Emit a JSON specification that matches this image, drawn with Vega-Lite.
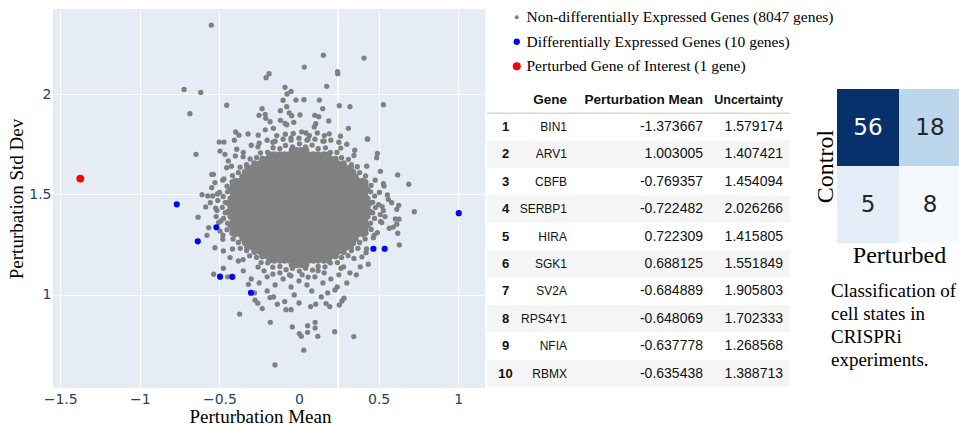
{
"$schema": "https://vega.github.io/schema/vega-lite/v6.json",
"padding": {"left": 7, "top": 8, "right": 0, "bottom": 0},
"autosize": {"type": "pad"},
"background": "white",
"config": {"view": {"stroke": null}, "locale": {"number": {"decimal": ".", "thousands": ",", "grouping": [3], "currency": ["$", ""], "minus": "-"}}},
"spacing": 2,
"bounds": "flush",
"resolve": {"scale": {"color": "independent", "size": "independent", "x": "independent", "y": "independent"}, "legend": {"color": "independent", "size": "independent"}},
"datasets": {
"core": [
{"mean":-0.045,"sd":1.149,"g":"n"},{"mean":-0.015,"sd":1.149,"g":"n"},{"mean":0.015,"sd":1.149,"g":"n"},{"mean":0.045,"sd":1.149,"g":"n"},
{"mean":-0.185,"sd":1.171,"g":"n"},{"mean":-0.155,"sd":1.171,"g":"n"},{"mean":-0.12,"sd":1.171,"g":"n"},{"mean":-0.09,"sd":1.171,"g":"n"},{"mean":-0.06,"sd":1.171,"g":"n"},{"mean":-0.03,"sd":1.171,"g":"n"},{"mean":0,"sd":1.171,"g":"n"},{"mean":0.03,"sd":1.171,"g":"n"},{"mean":0.06,"sd":1.171,"g":"n"},{"mean":0.09,"sd":1.171,"g":"n"},{"mean":0.12,"sd":1.171,"g":"n"},{"mean":0.155,"sd":1.171,"g":"n"},{"mean":0.185,"sd":1.171,"g":"n"},
{"mean":-0.23,"sd":1.193,"g":"n"},{"mean":-0.2,"sd":1.193,"g":"n"},{"mean":-0.17,"sd":1.193,"g":"n"},{"mean":-0.14,"sd":1.193,"g":"n"},{"mean":-0.105,"sd":1.193,"g":"n"},{"mean":-0.075,"sd":1.193,"g":"n"},{"mean":-0.045,"sd":1.193,"g":"n"},{"mean":-0.015,"sd":1.193,"g":"n"},{"mean":0.015,"sd":1.193,"g":"n"},{"mean":0.045,"sd":1.193,"g":"n"},{"mean":0.075,"sd":1.193,"g":"n"},{"mean":0.105,"sd":1.193,"g":"n"},{"mean":0.14,"sd":1.193,"g":"n"},{"mean":0.17,"sd":1.193,"g":"n"},{"mean":0.2,"sd":1.193,"g":"n"},{"mean":0.23,"sd":1.193,"g":"n"},
{"mean":-0.28,"sd":1.215,"g":"n"},{"mean":-0.245,"sd":1.215,"g":"n"},{"mean":-0.215,"sd":1.215,"g":"n"},{"mean":-0.185,"sd":1.215,"g":"n"},{"mean":-0.155,"sd":1.215,"g":"n"},{"mean":-0.12,"sd":1.215,"g":"n"},{"mean":-0.09,"sd":1.215,"g":"n"},{"mean":-0.06,"sd":1.215,"g":"n"},{"mean":-0.03,"sd":1.215,"g":"n"},{"mean":0,"sd":1.215,"g":"n"},{"mean":0.03,"sd":1.215,"g":"n"},{"mean":0.06,"sd":1.215,"g":"n"},{"mean":0.09,"sd":1.215,"g":"n"},{"mean":0.12,"sd":1.215,"g":"n"},{"mean":0.155,"sd":1.215,"g":"n"},{"mean":0.185,"sd":1.215,"g":"n"},{"mean":0.215,"sd":1.215,"g":"n"},{"mean":0.245,"sd":1.215,"g":"n"},{"mean":0.28,"sd":1.215,"g":"n"},
{"mean":-0.325,"sd":1.237,"g":"n"},{"mean":-0.295,"sd":1.237,"g":"n"},{"mean":-0.265,"sd":1.237,"g":"n"},{"mean":-0.23,"sd":1.237,"g":"n"},{"mean":-0.2,"sd":1.237,"g":"n"},{"mean":-0.17,"sd":1.237,"g":"n"},{"mean":-0.14,"sd":1.237,"g":"n"},{"mean":-0.105,"sd":1.237,"g":"n"},{"mean":-0.075,"sd":1.237,"g":"n"},{"mean":-0.045,"sd":1.237,"g":"n"},{"mean":-0.015,"sd":1.237,"g":"n"},{"mean":0.015,"sd":1.237,"g":"n"},{"mean":0.045,"sd":1.237,"g":"n"},{"mean":0.075,"sd":1.237,"g":"n"},{"mean":0.105,"sd":1.237,"g":"n"},{"mean":0.14,"sd":1.237,"g":"n"},{"mean":0.17,"sd":1.237,"g":"n"},{"mean":0.2,"sd":1.237,"g":"n"},{"mean":0.23,"sd":1.237,"g":"n"},{"mean":0.265,"sd":1.237,"g":"n"},{"mean":0.295,"sd":1.237,"g":"n"},{"mean":0.325,"sd":1.237,"g":"n"},
{"mean":-0.34,"sd":1.259,"g":"n"},{"mean":-0.31,"sd":1.259,"g":"n"},{"mean":-0.28,"sd":1.259,"g":"n"},{"mean":-0.245,"sd":1.259,"g":"n"},{"mean":-0.215,"sd":1.259,"g":"n"},{"mean":-0.185,"sd":1.259,"g":"n"},{"mean":-0.155,"sd":1.259,"g":"n"},{"mean":-0.12,"sd":1.259,"g":"n"},{"mean":-0.09,"sd":1.259,"g":"n"},{"mean":-0.06,"sd":1.259,"g":"n"},{"mean":-0.03,"sd":1.259,"g":"n"},{"mean":0,"sd":1.259,"g":"n"},{"mean":0.03,"sd":1.259,"g":"n"},{"mean":0.06,"sd":1.259,"g":"n"},{"mean":0.09,"sd":1.259,"g":"n"},{"mean":0.12,"sd":1.259,"g":"n"},{"mean":0.155,"sd":1.259,"g":"n"},{"mean":0.185,"sd":1.259,"g":"n"},{"mean":0.215,"sd":1.259,"g":"n"},{"mean":0.245,"sd":1.259,"g":"n"},{"mean":0.28,"sd":1.259,"g":"n"},{"mean":0.31,"sd":1.259,"g":"n"},{"mean":0.34,"sd":1.259,"g":"n"},
{"mean":-0.355,"sd":1.281,"g":"n"},{"mean":-0.325,"sd":1.281,"g":"n"},{"mean":-0.295,"sd":1.281,"g":"n"},{"mean":-0.265,"sd":1.281,"g":"n"},{"mean":-0.23,"sd":1.281,"g":"n"},{"mean":-0.2,"sd":1.281,"g":"n"},{"mean":-0.17,"sd":1.281,"g":"n"},{"mean":-0.14,"sd":1.281,"g":"n"},{"mean":-0.105,"sd":1.281,"g":"n"},{"mean":-0.075,"sd":1.281,"g":"n"},{"mean":-0.045,"sd":1.281,"g":"n"},{"mean":-0.015,"sd":1.281,"g":"n"},{"mean":0.015,"sd":1.281,"g":"n"},{"mean":0.045,"sd":1.281,"g":"n"},{"mean":0.075,"sd":1.281,"g":"n"},{"mean":0.105,"sd":1.281,"g":"n"},{"mean":0.14,"sd":1.281,"g":"n"},{"mean":0.17,"sd":1.281,"g":"n"},{"mean":0.2,"sd":1.281,"g":"n"},{"mean":0.23,"sd":1.281,"g":"n"},{"mean":0.265,"sd":1.281,"g":"n"},{"mean":0.295,"sd":1.281,"g":"n"},{"mean":0.325,"sd":1.281,"g":"n"},{"mean":0.355,"sd":1.281,"g":"n"},
{"mean":-0.4,"sd":1.303,"g":"n"},{"mean":-0.37,"sd":1.303,"g":"n"},{"mean":-0.34,"sd":1.303,"g":"n"},{"mean":-0.31,"sd":1.303,"g":"n"},{"mean":-0.28,"sd":1.303,"g":"n"},{"mean":-0.245,"sd":1.303,"g":"n"},{"mean":-0.215,"sd":1.303,"g":"n"},{"mean":-0.185,"sd":1.303,"g":"n"},{"mean":-0.155,"sd":1.303,"g":"n"},{"mean":-0.12,"sd":1.303,"g":"n"},{"mean":-0.09,"sd":1.303,"g":"n"},{"mean":-0.06,"sd":1.303,"g":"n"},{"mean":-0.03,"sd":1.303,"g":"n"},{"mean":0,"sd":1.303,"g":"n"},{"mean":0.03,"sd":1.303,"g":"n"},{"mean":0.06,"sd":1.303,"g":"n"},{"mean":0.09,"sd":1.303,"g":"n"},{"mean":0.12,"sd":1.303,"g":"n"},{"mean":0.155,"sd":1.303,"g":"n"},{"mean":0.185,"sd":1.303,"g":"n"},{"mean":0.215,"sd":1.303,"g":"n"},{"mean":0.245,"sd":1.303,"g":"n"},{"mean":0.28,"sd":1.303,"g":"n"},{"mean":0.31,"sd":1.303,"g":"n"},{"mean":0.34,"sd":1.303,"g":"n"},{"mean":0.37,"sd":1.303,"g":"n"},{"mean":0.4,"sd":1.303,"g":"n"},
{"mean":-0.415,"sd":1.325,"g":"n"},{"mean":-0.385,"sd":1.325,"g":"n"},{"mean":-0.355,"sd":1.325,"g":"n"},{"mean":-0.325,"sd":1.325,"g":"n"},{"mean":-0.295,"sd":1.325,"g":"n"},{"mean":-0.265,"sd":1.325,"g":"n"},{"mean":-0.23,"sd":1.325,"g":"n"},{"mean":-0.2,"sd":1.325,"g":"n"},{"mean":-0.17,"sd":1.325,"g":"n"},{"mean":-0.14,"sd":1.325,"g":"n"},{"mean":-0.105,"sd":1.325,"g":"n"},{"mean":-0.075,"sd":1.325,"g":"n"},{"mean":-0.045,"sd":1.325,"g":"n"},{"mean":-0.015,"sd":1.325,"g":"n"},{"mean":0.015,"sd":1.325,"g":"n"},{"mean":0.045,"sd":1.325,"g":"n"},{"mean":0.075,"sd":1.325,"g":"n"},{"mean":0.105,"sd":1.325,"g":"n"},{"mean":0.14,"sd":1.325,"g":"n"},{"mean":0.17,"sd":1.325,"g":"n"},{"mean":0.2,"sd":1.325,"g":"n"},{"mean":0.23,"sd":1.325,"g":"n"},{"mean":0.265,"sd":1.325,"g":"n"},{"mean":0.295,"sd":1.325,"g":"n"},{"mean":0.325,"sd":1.325,"g":"n"},{"mean":0.355,"sd":1.325,"g":"n"},{"mean":0.385,"sd":1.325,"g":"n"},{"mean":0.415,"sd":1.325,"g":"n"},
{"mean":-0.43,"sd":1.347,"g":"n"},{"mean":-0.4,"sd":1.347,"g":"n"},{"mean":-0.37,"sd":1.347,"g":"n"},{"mean":-0.34,"sd":1.347,"g":"n"},{"mean":-0.31,"sd":1.347,"g":"n"},{"mean":-0.28,"sd":1.347,"g":"n"},{"mean":-0.245,"sd":1.347,"g":"n"},{"mean":-0.215,"sd":1.347,"g":"n"},{"mean":-0.185,"sd":1.347,"g":"n"},{"mean":-0.155,"sd":1.347,"g":"n"},{"mean":-0.12,"sd":1.347,"g":"n"},{"mean":-0.09,"sd":1.347,"g":"n"},{"mean":-0.06,"sd":1.347,"g":"n"},{"mean":-0.03,"sd":1.347,"g":"n"},{"mean":0,"sd":1.347,"g":"n"},{"mean":0.03,"sd":1.347,"g":"n"},{"mean":0.06,"sd":1.347,"g":"n"},{"mean":0.09,"sd":1.347,"g":"n"},{"mean":0.12,"sd":1.347,"g":"n"},{"mean":0.155,"sd":1.347,"g":"n"},{"mean":0.185,"sd":1.347,"g":"n"},{"mean":0.215,"sd":1.347,"g":"n"},{"mean":0.245,"sd":1.347,"g":"n"},{"mean":0.28,"sd":1.347,"g":"n"},{"mean":0.31,"sd":1.347,"g":"n"},{"mean":0.34,"sd":1.347,"g":"n"},{"mean":0.37,"sd":1.347,"g":"n"},{"mean":0.4,"sd":1.347,"g":"n"},{"mean":0.43,"sd":1.347,"g":"n"},
{"mean":-0.415,"sd":1.369,"g":"n"},{"mean":-0.385,"sd":1.369,"g":"n"},{"mean":-0.355,"sd":1.369,"g":"n"},{"mean":-0.325,"sd":1.369,"g":"n"},{"mean":-0.295,"sd":1.369,"g":"n"},{"mean":-0.265,"sd":1.369,"g":"n"},{"mean":-0.23,"sd":1.369,"g":"n"},{"mean":-0.2,"sd":1.369,"g":"n"},{"mean":-0.17,"sd":1.369,"g":"n"},{"mean":-0.14,"sd":1.369,"g":"n"},{"mean":-0.105,"sd":1.369,"g":"n"},{"mean":-0.075,"sd":1.369,"g":"n"},{"mean":-0.045,"sd":1.369,"g":"n"},{"mean":-0.015,"sd":1.369,"g":"n"},{"mean":0.015,"sd":1.369,"g":"n"},{"mean":0.045,"sd":1.369,"g":"n"},{"mean":0.075,"sd":1.369,"g":"n"},{"mean":0.105,"sd":1.369,"g":"n"},{"mean":0.14,"sd":1.369,"g":"n"},{"mean":0.17,"sd":1.369,"g":"n"},{"mean":0.2,"sd":1.369,"g":"n"},{"mean":0.23,"sd":1.369,"g":"n"},{"mean":0.265,"sd":1.369,"g":"n"},{"mean":0.295,"sd":1.369,"g":"n"},{"mean":0.325,"sd":1.369,"g":"n"},{"mean":0.355,"sd":1.369,"g":"n"},{"mean":0.385,"sd":1.369,"g":"n"},{"mean":0.415,"sd":1.369,"g":"n"},
{"mean":-0.43,"sd":1.391,"g":"n"},{"mean":-0.4,"sd":1.391,"g":"n"},{"mean":-0.37,"sd":1.391,"g":"n"},{"mean":-0.34,"sd":1.391,"g":"n"},{"mean":-0.31,"sd":1.391,"g":"n"},{"mean":-0.28,"sd":1.391,"g":"n"},{"mean":-0.245,"sd":1.391,"g":"n"},{"mean":-0.215,"sd":1.391,"g":"n"},{"mean":-0.185,"sd":1.391,"g":"n"},{"mean":-0.155,"sd":1.391,"g":"n"},{"mean":-0.12,"sd":1.391,"g":"n"},{"mean":-0.09,"sd":1.391,"g":"n"},{"mean":-0.06,"sd":1.391,"g":"n"},{"mean":-0.03,"sd":1.391,"g":"n"},{"mean":0,"sd":1.391,"g":"n"},{"mean":0.03,"sd":1.391,"g":"n"},{"mean":0.06,"sd":1.391,"g":"n"},{"mean":0.09,"sd":1.391,"g":"n"},{"mean":0.12,"sd":1.391,"g":"n"},{"mean":0.155,"sd":1.391,"g":"n"},{"mean":0.185,"sd":1.391,"g":"n"},{"mean":0.215,"sd":1.391,"g":"n"},{"mean":0.245,"sd":1.391,"g":"n"},{"mean":0.28,"sd":1.391,"g":"n"},{"mean":0.31,"sd":1.391,"g":"n"},{"mean":0.34,"sd":1.391,"g":"n"},{"mean":0.37,"sd":1.391,"g":"n"},{"mean":0.4,"sd":1.391,"g":"n"},{"mean":0.43,"sd":1.391,"g":"n"},
{"mean":-0.445,"sd":1.413,"g":"n"},{"mean":-0.415,"sd":1.413,"g":"n"},{"mean":-0.385,"sd":1.413,"g":"n"},{"mean":-0.355,"sd":1.413,"g":"n"},{"mean":-0.325,"sd":1.413,"g":"n"},{"mean":-0.295,"sd":1.413,"g":"n"},{"mean":-0.265,"sd":1.413,"g":"n"},{"mean":-0.23,"sd":1.413,"g":"n"},{"mean":-0.2,"sd":1.413,"g":"n"},{"mean":-0.17,"sd":1.413,"g":"n"},{"mean":-0.14,"sd":1.413,"g":"n"},{"mean":-0.105,"sd":1.413,"g":"n"},{"mean":-0.075,"sd":1.413,"g":"n"},{"mean":-0.045,"sd":1.413,"g":"n"},{"mean":-0.015,"sd":1.413,"g":"n"},{"mean":0.015,"sd":1.413,"g":"n"},{"mean":0.045,"sd":1.413,"g":"n"},{"mean":0.075,"sd":1.413,"g":"n"},{"mean":0.105,"sd":1.413,"g":"n"},{"mean":0.14,"sd":1.413,"g":"n"},{"mean":0.17,"sd":1.413,"g":"n"},{"mean":0.2,"sd":1.413,"g":"n"},{"mean":0.23,"sd":1.413,"g":"n"},{"mean":0.265,"sd":1.413,"g":"n"},{"mean":0.295,"sd":1.413,"g":"n"},{"mean":0.325,"sd":1.413,"g":"n"},{"mean":0.355,"sd":1.413,"g":"n"},{"mean":0.385,"sd":1.413,"g":"n"},{"mean":0.415,"sd":1.413,"g":"n"},{"mean":0.445,"sd":1.413,"g":"n"},
{"mean":-0.43,"sd":1.435,"g":"n"},{"mean":-0.4,"sd":1.435,"g":"n"},{"mean":-0.37,"sd":1.435,"g":"n"},{"mean":-0.34,"sd":1.435,"g":"n"},{"mean":-0.31,"sd":1.435,"g":"n"},{"mean":-0.28,"sd":1.435,"g":"n"},{"mean":-0.245,"sd":1.435,"g":"n"},{"mean":-0.215,"sd":1.435,"g":"n"},{"mean":-0.185,"sd":1.435,"g":"n"},{"mean":-0.155,"sd":1.435,"g":"n"},{"mean":-0.12,"sd":1.435,"g":"n"},{"mean":-0.09,"sd":1.435,"g":"n"},{"mean":-0.06,"sd":1.435,"g":"n"},{"mean":-0.03,"sd":1.435,"g":"n"},{"mean":0,"sd":1.435,"g":"n"},{"mean":0.03,"sd":1.435,"g":"n"},{"mean":0.06,"sd":1.435,"g":"n"},{"mean":0.09,"sd":1.435,"g":"n"},{"mean":0.12,"sd":1.435,"g":"n"},{"mean":0.155,"sd":1.435,"g":"n"},{"mean":0.185,"sd":1.435,"g":"n"},{"mean":0.215,"sd":1.435,"g":"n"},{"mean":0.245,"sd":1.435,"g":"n"},{"mean":0.28,"sd":1.435,"g":"n"},{"mean":0.31,"sd":1.435,"g":"n"},{"mean":0.34,"sd":1.435,"g":"n"},{"mean":0.37,"sd":1.435,"g":"n"},{"mean":0.4,"sd":1.435,"g":"n"},{"mean":0.43,"sd":1.435,"g":"n"},
{"mean":-0.445,"sd":1.457,"g":"n"},{"mean":-0.415,"sd":1.457,"g":"n"},{"mean":-0.385,"sd":1.457,"g":"n"},{"mean":-0.355,"sd":1.457,"g":"n"},{"mean":-0.325,"sd":1.457,"g":"n"},{"mean":-0.295,"sd":1.457,"g":"n"},{"mean":-0.265,"sd":1.457,"g":"n"},{"mean":-0.23,"sd":1.457,"g":"n"},{"mean":-0.2,"sd":1.457,"g":"n"},{"mean":-0.17,"sd":1.457,"g":"n"},{"mean":-0.14,"sd":1.457,"g":"n"},{"mean":-0.105,"sd":1.457,"g":"n"},{"mean":-0.075,"sd":1.457,"g":"n"},{"mean":-0.045,"sd":1.457,"g":"n"},{"mean":-0.015,"sd":1.457,"g":"n"},{"mean":0.015,"sd":1.457,"g":"n"},{"mean":0.045,"sd":1.457,"g":"n"},{"mean":0.075,"sd":1.457,"g":"n"},{"mean":0.105,"sd":1.457,"g":"n"},{"mean":0.14,"sd":1.457,"g":"n"},{"mean":0.17,"sd":1.457,"g":"n"},{"mean":0.2,"sd":1.457,"g":"n"},{"mean":0.23,"sd":1.457,"g":"n"},{"mean":0.265,"sd":1.457,"g":"n"},{"mean":0.295,"sd":1.457,"g":"n"},{"mean":0.325,"sd":1.457,"g":"n"},{"mean":0.355,"sd":1.457,"g":"n"},{"mean":0.385,"sd":1.457,"g":"n"},{"mean":0.415,"sd":1.457,"g":"n"},{"mean":0.445,"sd":1.457,"g":"n"},
{"mean":-0.43,"sd":1.479,"g":"n"},{"mean":-0.4,"sd":1.479,"g":"n"},{"mean":-0.37,"sd":1.479,"g":"n"},{"mean":-0.34,"sd":1.479,"g":"n"},{"mean":-0.31,"sd":1.479,"g":"n"},{"mean":-0.28,"sd":1.479,"g":"n"},{"mean":-0.245,"sd":1.479,"g":"n"},{"mean":-0.215,"sd":1.479,"g":"n"},{"mean":-0.185,"sd":1.479,"g":"n"},{"mean":-0.155,"sd":1.479,"g":"n"},{"mean":-0.12,"sd":1.479,"g":"n"},{"mean":-0.09,"sd":1.479,"g":"n"},{"mean":-0.06,"sd":1.479,"g":"n"},{"mean":-0.03,"sd":1.479,"g":"n"},{"mean":0,"sd":1.479,"g":"n"},{"mean":0.03,"sd":1.479,"g":"n"},{"mean":0.06,"sd":1.479,"g":"n"},{"mean":0.09,"sd":1.479,"g":"n"},{"mean":0.12,"sd":1.479,"g":"n"},{"mean":0.155,"sd":1.479,"g":"n"},{"mean":0.185,"sd":1.479,"g":"n"},{"mean":0.215,"sd":1.479,"g":"n"},{"mean":0.245,"sd":1.479,"g":"n"},{"mean":0.28,"sd":1.479,"g":"n"},{"mean":0.31,"sd":1.479,"g":"n"},{"mean":0.34,"sd":1.479,"g":"n"},{"mean":0.37,"sd":1.479,"g":"n"},{"mean":0.4,"sd":1.479,"g":"n"},{"mean":0.43,"sd":1.479,"g":"n"},
{"mean":-0.415,"sd":1.501,"g":"n"},{"mean":-0.385,"sd":1.501,"g":"n"},{"mean":-0.355,"sd":1.501,"g":"n"},{"mean":-0.325,"sd":1.501,"g":"n"},{"mean":-0.295,"sd":1.501,"g":"n"},{"mean":-0.265,"sd":1.501,"g":"n"},{"mean":-0.23,"sd":1.501,"g":"n"},{"mean":-0.2,"sd":1.501,"g":"n"},{"mean":-0.17,"sd":1.501,"g":"n"},{"mean":-0.14,"sd":1.501,"g":"n"},{"mean":-0.105,"sd":1.501,"g":"n"},{"mean":-0.075,"sd":1.501,"g":"n"},{"mean":-0.045,"sd":1.501,"g":"n"},{"mean":-0.015,"sd":1.501,"g":"n"},{"mean":0.015,"sd":1.501,"g":"n"},{"mean":0.045,"sd":1.501,"g":"n"},{"mean":0.075,"sd":1.501,"g":"n"},{"mean":0.105,"sd":1.501,"g":"n"},{"mean":0.14,"sd":1.501,"g":"n"},{"mean":0.17,"sd":1.501,"g":"n"},{"mean":0.2,"sd":1.501,"g":"n"},{"mean":0.23,"sd":1.501,"g":"n"},{"mean":0.265,"sd":1.501,"g":"n"},{"mean":0.295,"sd":1.501,"g":"n"},{"mean":0.325,"sd":1.501,"g":"n"},{"mean":0.355,"sd":1.501,"g":"n"},{"mean":0.385,"sd":1.501,"g":"n"},{"mean":0.415,"sd":1.501,"g":"n"},
{"mean":-0.43,"sd":1.523,"g":"n"},{"mean":-0.4,"sd":1.523,"g":"n"},{"mean":-0.37,"sd":1.523,"g":"n"},{"mean":-0.34,"sd":1.523,"g":"n"},{"mean":-0.31,"sd":1.523,"g":"n"},{"mean":-0.28,"sd":1.523,"g":"n"},{"mean":-0.245,"sd":1.523,"g":"n"},{"mean":-0.215,"sd":1.523,"g":"n"},{"mean":-0.185,"sd":1.523,"g":"n"},{"mean":-0.155,"sd":1.523,"g":"n"},{"mean":-0.12,"sd":1.523,"g":"n"},{"mean":-0.09,"sd":1.523,"g":"n"},{"mean":-0.06,"sd":1.523,"g":"n"},{"mean":-0.03,"sd":1.523,"g":"n"},{"mean":0,"sd":1.523,"g":"n"},{"mean":0.03,"sd":1.523,"g":"n"},{"mean":0.06,"sd":1.523,"g":"n"},{"mean":0.09,"sd":1.523,"g":"n"},{"mean":0.12,"sd":1.523,"g":"n"},{"mean":0.155,"sd":1.523,"g":"n"},{"mean":0.185,"sd":1.523,"g":"n"},{"mean":0.215,"sd":1.523,"g":"n"},{"mean":0.245,"sd":1.523,"g":"n"},{"mean":0.28,"sd":1.523,"g":"n"},{"mean":0.31,"sd":1.523,"g":"n"},{"mean":0.34,"sd":1.523,"g":"n"},{"mean":0.37,"sd":1.523,"g":"n"},{"mean":0.4,"sd":1.523,"g":"n"},{"mean":0.43,"sd":1.523,"g":"n"},
{"mean":-0.415,"sd":1.545,"g":"n"},{"mean":-0.385,"sd":1.545,"g":"n"},{"mean":-0.355,"sd":1.545,"g":"n"},{"mean":-0.325,"sd":1.545,"g":"n"},{"mean":-0.295,"sd":1.545,"g":"n"},{"mean":-0.265,"sd":1.545,"g":"n"},{"mean":-0.23,"sd":1.545,"g":"n"},{"mean":-0.2,"sd":1.545,"g":"n"},{"mean":-0.17,"sd":1.545,"g":"n"},{"mean":-0.14,"sd":1.545,"g":"n"},{"mean":-0.105,"sd":1.545,"g":"n"},{"mean":-0.075,"sd":1.545,"g":"n"},{"mean":-0.045,"sd":1.545,"g":"n"},{"mean":-0.015,"sd":1.545,"g":"n"},{"mean":0.015,"sd":1.545,"g":"n"},{"mean":0.045,"sd":1.545,"g":"n"},{"mean":0.075,"sd":1.545,"g":"n"},{"mean":0.105,"sd":1.545,"g":"n"},{"mean":0.14,"sd":1.545,"g":"n"},{"mean":0.17,"sd":1.545,"g":"n"},{"mean":0.2,"sd":1.545,"g":"n"},{"mean":0.23,"sd":1.545,"g":"n"},{"mean":0.265,"sd":1.545,"g":"n"},{"mean":0.295,"sd":1.545,"g":"n"},{"mean":0.325,"sd":1.545,"g":"n"},{"mean":0.355,"sd":1.545,"g":"n"},{"mean":0.385,"sd":1.545,"g":"n"},{"mean":0.415,"sd":1.545,"g":"n"},
{"mean":-0.4,"sd":1.567,"g":"n"},{"mean":-0.37,"sd":1.567,"g":"n"},{"mean":-0.34,"sd":1.567,"g":"n"},{"mean":-0.31,"sd":1.567,"g":"n"},{"mean":-0.28,"sd":1.567,"g":"n"},{"mean":-0.245,"sd":1.567,"g":"n"},{"mean":-0.215,"sd":1.567,"g":"n"},{"mean":-0.185,"sd":1.567,"g":"n"},{"mean":-0.155,"sd":1.567,"g":"n"},{"mean":-0.12,"sd":1.567,"g":"n"},{"mean":-0.09,"sd":1.567,"g":"n"},{"mean":-0.06,"sd":1.567,"g":"n"},{"mean":-0.03,"sd":1.567,"g":"n"},{"mean":0,"sd":1.567,"g":"n"},{"mean":0.03,"sd":1.567,"g":"n"},{"mean":0.06,"sd":1.567,"g":"n"},{"mean":0.09,"sd":1.567,"g":"n"},{"mean":0.12,"sd":1.567,"g":"n"},{"mean":0.155,"sd":1.567,"g":"n"},{"mean":0.185,"sd":1.567,"g":"n"},{"mean":0.215,"sd":1.567,"g":"n"},{"mean":0.245,"sd":1.567,"g":"n"},{"mean":0.28,"sd":1.567,"g":"n"},{"mean":0.31,"sd":1.567,"g":"n"},{"mean":0.34,"sd":1.567,"g":"n"},{"mean":0.37,"sd":1.567,"g":"n"},{"mean":0.4,"sd":1.567,"g":"n"},
{"mean":-0.355,"sd":1.589,"g":"n"},{"mean":-0.325,"sd":1.589,"g":"n"},{"mean":-0.295,"sd":1.589,"g":"n"},{"mean":-0.265,"sd":1.589,"g":"n"},{"mean":-0.23,"sd":1.589,"g":"n"},{"mean":-0.2,"sd":1.589,"g":"n"},{"mean":-0.17,"sd":1.589,"g":"n"},{"mean":-0.14,"sd":1.589,"g":"n"},{"mean":-0.105,"sd":1.589,"g":"n"},{"mean":-0.075,"sd":1.589,"g":"n"},{"mean":-0.045,"sd":1.589,"g":"n"},{"mean":-0.015,"sd":1.589,"g":"n"},{"mean":0.015,"sd":1.589,"g":"n"},{"mean":0.045,"sd":1.589,"g":"n"},{"mean":0.075,"sd":1.589,"g":"n"},{"mean":0.105,"sd":1.589,"g":"n"},{"mean":0.14,"sd":1.589,"g":"n"},{"mean":0.17,"sd":1.589,"g":"n"},{"mean":0.2,"sd":1.589,"g":"n"},{"mean":0.23,"sd":1.589,"g":"n"},{"mean":0.265,"sd":1.589,"g":"n"},{"mean":0.295,"sd":1.589,"g":"n"},{"mean":0.325,"sd":1.589,"g":"n"},{"mean":0.355,"sd":1.589,"g":"n"},
{"mean":-0.34,"sd":1.611,"g":"n"},{"mean":-0.31,"sd":1.611,"g":"n"},{"mean":-0.28,"sd":1.611,"g":"n"},{"mean":-0.245,"sd":1.611,"g":"n"},{"mean":-0.215,"sd":1.611,"g":"n"},{"mean":-0.185,"sd":1.611,"g":"n"},{"mean":-0.155,"sd":1.611,"g":"n"},{"mean":-0.12,"sd":1.611,"g":"n"},{"mean":-0.09,"sd":1.611,"g":"n"},{"mean":-0.06,"sd":1.611,"g":"n"},{"mean":-0.03,"sd":1.611,"g":"n"},{"mean":0,"sd":1.611,"g":"n"},{"mean":0.03,"sd":1.611,"g":"n"},{"mean":0.06,"sd":1.611,"g":"n"},{"mean":0.09,"sd":1.611,"g":"n"},{"mean":0.12,"sd":1.611,"g":"n"},{"mean":0.155,"sd":1.611,"g":"n"},{"mean":0.185,"sd":1.611,"g":"n"},{"mean":0.215,"sd":1.611,"g":"n"},{"mean":0.245,"sd":1.611,"g":"n"},{"mean":0.28,"sd":1.611,"g":"n"},{"mean":0.31,"sd":1.611,"g":"n"},{"mean":0.34,"sd":1.611,"g":"n"},
{"mean":-0.325,"sd":1.633,"g":"n"},{"mean":-0.295,"sd":1.633,"g":"n"},{"mean":-0.265,"sd":1.633,"g":"n"},{"mean":-0.23,"sd":1.633,"g":"n"},{"mean":-0.2,"sd":1.633,"g":"n"},{"mean":-0.17,"sd":1.633,"g":"n"},{"mean":-0.14,"sd":1.633,"g":"n"},{"mean":-0.105,"sd":1.633,"g":"n"},{"mean":-0.075,"sd":1.633,"g":"n"},{"mean":-0.045,"sd":1.633,"g":"n"},{"mean":-0.015,"sd":1.633,"g":"n"},{"mean":0.015,"sd":1.633,"g":"n"},{"mean":0.045,"sd":1.633,"g":"n"},{"mean":0.075,"sd":1.633,"g":"n"},{"mean":0.105,"sd":1.633,"g":"n"},{"mean":0.14,"sd":1.633,"g":"n"},{"mean":0.17,"sd":1.633,"g":"n"},{"mean":0.2,"sd":1.633,"g":"n"},{"mean":0.23,"sd":1.633,"g":"n"},{"mean":0.265,"sd":1.633,"g":"n"},{"mean":0.295,"sd":1.633,"g":"n"},{"mean":0.325,"sd":1.633,"g":"n"},
{"mean":-0.28,"sd":1.655,"g":"n"},{"mean":-0.245,"sd":1.655,"g":"n"},{"mean":-0.215,"sd":1.655,"g":"n"},{"mean":-0.185,"sd":1.655,"g":"n"},{"mean":-0.155,"sd":1.655,"g":"n"},{"mean":-0.12,"sd":1.655,"g":"n"},{"mean":-0.09,"sd":1.655,"g":"n"},{"mean":-0.06,"sd":1.655,"g":"n"},{"mean":-0.03,"sd":1.655,"g":"n"},{"mean":0,"sd":1.655,"g":"n"},{"mean":0.03,"sd":1.655,"g":"n"},{"mean":0.06,"sd":1.655,"g":"n"},{"mean":0.09,"sd":1.655,"g":"n"},{"mean":0.12,"sd":1.655,"g":"n"},{"mean":0.155,"sd":1.655,"g":"n"},{"mean":0.185,"sd":1.655,"g":"n"},{"mean":0.215,"sd":1.655,"g":"n"},{"mean":0.245,"sd":1.655,"g":"n"},{"mean":0.28,"sd":1.655,"g":"n"},
{"mean":-0.23,"sd":1.677,"g":"n"},{"mean":-0.2,"sd":1.677,"g":"n"},{"mean":-0.17,"sd":1.677,"g":"n"},{"mean":-0.14,"sd":1.677,"g":"n"},{"mean":-0.105,"sd":1.677,"g":"n"},{"mean":-0.075,"sd":1.677,"g":"n"},{"mean":-0.045,"sd":1.677,"g":"n"},{"mean":-0.015,"sd":1.677,"g":"n"},{"mean":0.015,"sd":1.677,"g":"n"},{"mean":0.045,"sd":1.677,"g":"n"},{"mean":0.075,"sd":1.677,"g":"n"},{"mean":0.105,"sd":1.677,"g":"n"},{"mean":0.14,"sd":1.677,"g":"n"},{"mean":0.17,"sd":1.677,"g":"n"},{"mean":0.2,"sd":1.677,"g":"n"},{"mean":0.23,"sd":1.677,"g":"n"},
{"mean":-0.185,"sd":1.699,"g":"n"},{"mean":-0.155,"sd":1.699,"g":"n"},{"mean":-0.12,"sd":1.699,"g":"n"},{"mean":-0.09,"sd":1.699,"g":"n"},{"mean":-0.06,"sd":1.699,"g":"n"},{"mean":-0.03,"sd":1.699,"g":"n"},{"mean":0,"sd":1.699,"g":"n"},{"mean":0.03,"sd":1.699,"g":"n"},{"mean":0.06,"sd":1.699,"g":"n"},{"mean":0.09,"sd":1.699,"g":"n"},{"mean":0.12,"sd":1.699,"g":"n"},{"mean":0.155,"sd":1.699,"g":"n"},{"mean":0.185,"sd":1.699,"g":"n"},
{"mean":-0.045,"sd":1.721,"g":"n"},{"mean":-0.015,"sd":1.721,"g":"n"},{"mean":0.015,"sd":1.721,"g":"n"},{"mean":0.045,"sd":1.721,"g":"n"}
],
"genes": [
{"mean":0.48,"sd":1.435,"g":"n"},{"mean":0.475,"sd":1.492,"g":"n"},{"mean":0.452,"sd":1.545,"g":"n"},{"mean":0.418,"sd":1.592,"g":"n"},{"mean":0.366,"sd":1.638,"g":"n"},{"mean":0.31,"sd":1.675,"g":"n"},{"mean":0.238,"sd":1.709,"g":"n"},{"mean":0.166,"sd":1.732,"g":"n"},{"mean":0.082,"sd":1.746,"g":"n"},{"mean":0.003,"sd":1.752,"g":"n"},{"mean":-0.085,"sd":1.744,"g":"n"},{"mean":-0.163,"sd":1.733,"g":"n"},{"mean":-0.242,"sd":1.707,"g":"n"},{"mean":-0.307,"sd":1.677,"g":"n"},{"mean":-0.37,"sd":1.636,"g":"n"},{"mean":-0.418,"sd":1.594,"g":"n"},{"mean":-0.452,"sd":1.541,"g":"n"},{"mean":-0.476,"sd":1.49,"g":"n"},{"mean":-0.482,"sd":1.436,"g":"n"},{"mean":-0.474,"sd":1.381,"g":"n"},{"mean":-0.452,"sd":1.325,"g":"n"},{"mean":-0.414,"sd":1.279,"g":"n"},{"mean":-0.369,"sd":1.232,"g":"n"},{"mean":-0.31,"sd":1.195,"g":"n"},{"mean":-0.238,"sd":1.161,"g":"n"},{"mean":-0.165,"sd":1.138,"g":"n"},{"mean":-0.081,"sd":1.126,"g":"n"},{"mean":0.002,"sd":1.119,"g":"n"},{"mean":0.085,"sd":1.124,"g":"n"},{"mean":0.163,"sd":1.14,"g":"n"},{"mean":0.241,"sd":1.161,"g":"n"},{"mean":0.308,"sd":1.196,"g":"n"},{"mean":0.37,"sd":1.232,"g":"n"},{"mean":0.415,"sd":1.279,"g":"n"},{"mean":0.453,"sd":1.326,"g":"n"},{"mean":0.474,"sd":1.381,"g":"n"},
{"mean":0.463,"sd":1.461,"g":"n"},{"mean":0.449,"sd":1.513,"g":"n"},{"mean":0.421,"sd":1.563,"g":"n"},{"mean":0.381,"sd":1.609,"g":"n"},{"mean":0.329,"sd":1.649,"g":"n"},{"mean":0.267,"sd":1.683,"g":"n"},{"mean":0.197,"sd":1.71,"g":"n"},{"mean":0.12,"sd":1.728,"g":"n"},{"mean":0.041,"sd":1.737,"g":"n"},{"mean":-0.041,"sd":1.737,"g":"n"},{"mean":-0.12,"sd":1.728,"g":"n"},{"mean":-0.197,"sd":1.71,"g":"n"},{"mean":-0.267,"sd":1.683,"g":"n"},{"mean":-0.329,"sd":1.649,"g":"n"},{"mean":-0.381,"sd":1.609,"g":"n"},{"mean":-0.421,"sd":1.563,"g":"n"},{"mean":-0.449,"sd":1.513,"g":"n"},{"mean":-0.463,"sd":1.461,"g":"n"},{"mean":-0.463,"sd":1.409,"g":"n"},{"mean":-0.449,"sd":1.357,"g":"n"},{"mean":-0.421,"sd":1.307,"g":"n"},{"mean":-0.381,"sd":1.261,"g":"n"},{"mean":-0.329,"sd":1.221,"g":"n"},{"mean":-0.267,"sd":1.187,"g":"n"},{"mean":-0.197,"sd":1.16,"g":"n"},{"mean":-0.12,"sd":1.142,"g":"n"},{"mean":-0.041,"sd":1.133,"g":"n"},{"mean":0.041,"sd":1.133,"g":"n"},{"mean":0.12,"sd":1.142,"g":"n"},{"mean":0.197,"sd":1.16,"g":"n"},{"mean":0.267,"sd":1.187,"g":"n"},{"mean":0.329,"sd":1.221,"g":"n"},{"mean":0.381,"sd":1.261,"g":"n"},{"mean":0.421,"sd":1.307,"g":"n"},{"mean":0.449,"sd":1.357,"g":"n"},{"mean":0.463,"sd":1.409,"g":"n"},
{"mean":0.522,"sd":1.44,"g":"n"},{"mean":0.505,"sd":1.51,"g":"n"},{"mean":0.478,"sd":1.571,"g":"n"},{"mean":0.425,"sd":1.641,"g":"n"},{"mean":0.345,"sd":1.694,"g":"n"},{"mean":0.262,"sd":1.731,"g":"n"},{"mean":0.158,"sd":1.766,"g":"n"},{"mean":0.057,"sd":1.775,"g":"n"},{"mean":-0.05,"sd":1.781,"g":"n"},{"mean":-0.164,"sd":1.76,"g":"n"},{"mean":-0.258,"sd":1.737,"g":"n"},{"mean":-0.351,"sd":1.688,"g":"n"},{"mean":-0.424,"sd":1.641,"g":"n"},{"mean":-0.471,"sd":1.578,"g":"n"},{"mean":-0.512,"sd":1.503,"g":"n"},{"mean":-0.523,"sd":1.432,"g":"n"},{"mean":-0.505,"sd":1.36,"g":"n"},{"mean":-0.478,"sd":1.298,"g":"n"},{"mean":-0.418,"sd":1.229,"g":"n"},{"mean":-0.351,"sd":1.176,"g":"n"},{"mean":-0.257,"sd":1.139,"g":"n"},{"mean":-0.164,"sd":1.104,"g":"n"},{"mean":-0.051,"sd":1.095,"g":"n"},{"mean":0.057,"sd":1.089,"g":"n"},{"mean":0.158,"sd":1.11,"g":"n"},{"mean":0.263,"sd":1.133,"g":"n"},{"mean":0.345,"sd":1.182,"g":"n"},{"mean":0.424,"sd":1.229,"g":"n"},{"mean":0.472,"sd":1.298,"g":"n"},{"mean":0.512,"sd":1.366,"g":"n"},
{"mean":-0.551,"sd":2.343,"g":"n"},{"mean":0.153,"sd":2.193,"g":"n"},{"mean":0.408,"sd":2.179,"g":"n"},{"mean":0.033,"sd":2.134,"g":"n"},{"mean":0.242,"sd":2.111,"g":"n"},{"mean":0.243,"sd":2.101,"g":"n"},{"mean":-0.188,"sd":2.101,"g":"n"},{"mean":-0.207,"sd":2.081,"g":"n"},{"mean":0.174,"sd":2.038,"g":"n"},{"mean":-0.088,"sd":2.033,"g":"n"},{"mean":-0.05,"sd":2.013,"g":"n"},{"mean":-0.075,"sd":2.0,"g":"n"},{"mean":-0.722,"sd":2.023,"g":"n"},{"mean":-0.617,"sd":2.008,"g":"n"},{"mean":-0.685,"sd":1.902,"g":"n"},{"mean":-0.454,"sd":1.944,"g":"n"},{"mean":0.53,"sd":1.947,"g":"n"},{"mean":0.253,"sd":1.942,"g":"n"},{"mean":0.32,"sd":1.937,"g":"n"},{"mean":-0.1,"sd":1.969,"g":"n"},{"mean":-0.019,"sd":1.97,"g":"n"},{"mean":0.031,"sd":1.972,"g":"n"},{"mean":0.128,"sd":1.97,"g":"n"},{"mean":0.149,"sd":1.927,"g":"n"},{"mean":-0.232,"sd":1.927,"g":"n"},{"mean":-0.077,"sd":1.937,"g":"n"},{"mean":-0.117,"sd":1.917,"g":"n"},{"mean":-0.251,"sd":1.894,"g":"n"},{"mean":-0.212,"sd":1.899,"g":"n"},{"mean":-0.209,"sd":1.879,"g":"n"},{"mean":-0.182,"sd":1.862,"g":"n"},{"mean":-0.061,"sd":1.906,"g":"n"},{"mean":-0.046,"sd":1.892,"g":"n"},{"mean":0.006,"sd":1.896,"g":"n"},{"mean":0.099,"sd":1.894,"g":"n"},{"mean":0.124,"sd":1.887,"g":"n"},{"mean":0.187,"sd":1.866,"g":"n"},{"mean":0.31,"sd":1.829,"g":"n"},{"mean":-0.117,"sd":1.869,"g":"n"},{"mean":-0.088,"sd":1.854,"g":"n"},{"mean":-0.077,"sd":1.847,"g":"n"},{"mean":-0.033,"sd":1.859,"g":"n"},{"mean":0.096,"sd":1.836,"g":"n"},{"mean":0.105,"sd":1.852,"g":"n"},{"mean":-0.161,"sd":1.829,"g":"n"},{"mean":-0.212,"sd":1.822,"g":"n"},{"mean":-0.398,"sd":1.811,"g":"n"},{"mean":-0.377,"sd":1.795,"g":"n"},{"mean":-0.32,"sd":1.801,"g":"n"},{"mean":-0.256,"sd":1.795,"g":"n"},{"mean":-0.14,"sd":1.793,"g":"n"},{"mean":-0.086,"sd":1.8,"g":"n"},{"mean":-0.036,"sd":1.804,"g":"n"},{"mean":0.017,"sd":1.812,"g":"n"},{"mean":0.044,"sd":1.806,"g":"n"},{"mean":0.065,"sd":1.793,"g":"n"},{"mean":0.115,"sd":1.806,"g":"n"},{"mean":0.159,"sd":1.793,"g":"n"},{"mean":0.19,"sd":1.802,"g":"n"},{"mean":0.26,"sd":1.79,"g":"n"},{"mean":0.429,"sd":1.776,"g":"n"},{"mean":-0.647,"sd":1.7,"g":"n"},
{"mean":-0.2,"sd":1.77,"g":"n"},{"mean":-0.15,"sd":1.765,"g":"n"},{"mean":-0.1,"sd":1.775,"g":"n"},{"mean":-0.05,"sd":1.77,"g":"n"},{"mean":0.0,"sd":1.78,"g":"n"},{"mean":0.05,"sd":1.77,"g":"n"},{"mean":0.1,"sd":1.775,"g":"n"},{"mean":0.15,"sd":1.765,"g":"n"},{"mean":0.2,"sd":1.77,"g":"n"},{"mean":0.25,"sd":1.76,"g":"n"},{"mean":0.3,"sd":1.75,"g":"n"},{"mean":-0.25,"sd":1.755,"g":"n"},{"mean":-0.3,"sd":1.745,"g":"n"},{"mean":0.35,"sd":1.72,"g":"n"},{"mean":-0.35,"sd":1.71,"g":"n"},
{"mean":-0.501,"sd":1.761,"g":"n"},{"mean":-0.471,"sd":1.761,"g":"n"},{"mean":-0.496,"sd":1.716,"g":"n"},{"mean":-0.465,"sd":1.7,"g":"n"},{"mean":-0.548,"sd":1.6,"g":"n"},{"mean":-0.538,"sd":1.6,"g":"n"},{"mean":-0.548,"sd":1.534,"g":"n"},{"mean":-0.528,"sd":1.559,"g":"n"},{"mean":-0.609,"sd":1.499,"g":"n"},{"mean":-0.573,"sd":1.493,"g":"n"},{"mean":-0.542,"sd":1.493,"g":"n"},{"mean":-0.586,"sd":1.438,"g":"n"},{"mean":-0.557,"sd":1.459,"g":"n"},{"mean":-0.634,"sd":1.387,"g":"n"},{"mean":-0.567,"sd":1.335,"g":"n"},{"mean":-0.578,"sd":1.297,"g":"n"},{"mean":-0.528,"sd":1.235,"g":"n"},{"mean":-0.479,"sd":1.277,"g":"n"},{"mean":-0.406,"sd":1.77,"g":"n"},{"mean":-0.391,"sd":1.725,"g":"n"},{"mean":-0.4,"sd":1.692,"g":"n"},{"mean":-0.444,"sd":1.667,"g":"n"},{"mean":-0.454,"sd":1.633,"g":"n"},{"mean":-0.479,"sd":1.571,"g":"n"},{"mean":-0.433,"sd":1.186,"g":"n"},{"mean":-0.381,"sd":1.169,"g":"n"},{"mean":-0.475,"sd":1.219,"g":"n"},{"mean":-0.496,"sd":1.318,"g":"n"},{"mean":-0.49,"sd":1.368,"g":"n"},{"mean":-0.515,"sd":1.42,"g":"n"},{"mean":-0.51,"sd":1.47,"g":"n"},{"mean":-0.52,"sd":1.39,"g":"n"},{"mean":-0.5,"sd":1.51,"g":"n"},
{"mean":0.431,"sd":1.775,"g":"n"},{"mean":0.492,"sd":1.705,"g":"n"},{"mean":0.488,"sd":1.683,"g":"n"},{"mean":0.511,"sd":1.615,"g":"n"},{"mean":0.62,"sd":1.597,"g":"n"},{"mean":0.689,"sd":1.551,"g":"n"},{"mean":0.724,"sd":1.414,"g":"n"},{"mean":0.63,"sd":1.249,"g":"n"},{"mean":0.62,"sd":1.307,"g":"n"},{"mean":0.605,"sd":1.378,"g":"n"},{"mean":0.628,"sd":1.377,"g":"n"},{"mean":0.614,"sd":1.426,"g":"n"},{"mean":0.626,"sd":1.446,"g":"n"},{"mean":0.582,"sd":1.459,"g":"n"},{"mean":0.561,"sd":1.476,"g":"n"},{"mean":0.555,"sd":1.498,"g":"n"},{"mean":0.534,"sd":1.542,"g":"n"},{"mean":0.53,"sd":1.554,"g":"n"},{"mean":0.567,"sd":1.332,"g":"n"},{"mean":0.592,"sd":1.338,"g":"n"},{"mean":0.614,"sd":1.352,"g":"n"},{"mean":0.492,"sd":1.31,"g":"n"},{"mean":0.467,"sd":1.285,"g":"n"},{"mean":0.421,"sd":1.21,"g":"n"},{"mean":0.435,"sd":1.153,"g":"n"},{"mean":0.395,"sd":1.19,"g":"n"},{"mean":0.385,"sd":1.14,"g":"n"},{"mean":0.32,"sd":1.11,"g":"n"},{"mean":0.28,"sd":1.14,"g":"n"},{"mean":0.51,"sd":1.4,"g":"n"},{"mean":0.52,"sd":1.36,"g":"n"},{"mean":0.5,"sd":1.45,"g":"n"},{"mean":0.53,"sd":1.42,"g":"n"},{"mean":0.54,"sd":1.39,"g":"n"},
{"mean":-0.536,"sd":1.103,"g":"n"},{"mean":-0.475,"sd":1.133,"g":"n"},{"mean":-0.448,"sd":1.09,"g":"n"},{"mean":-0.318,"sd":1.053,"g":"n"},{"mean":-0.373,"sd":0.905,"g":"n"},{"mean":-0.18,"sd":0.864,"g":"n"},{"mean":-0.151,"sd":0.652,"g":"n"},{"mean":-0.042,"sd":0.841,"g":"n"},{"mean":0.002,"sd":0.808,"g":"n"},{"mean":0.014,"sd":0.795,"g":"n"},{"mean":0.03,"sd":0.725,"g":"n"},{"mean":0.054,"sd":0.847,"g":"n"},{"mean":0.054,"sd":0.814,"g":"n"},{"mean":0.101,"sd":0.864,"g":"n"},{"mean":0.101,"sd":0.836,"g":"n"},{"mean":0.118,"sd":0.794,"g":"n"},{"mean":0.224,"sd":0.817,"g":"n"},{"mean":0.344,"sd":0.793,"g":"n"},{"mean":-0.259,"sd":0.959,"g":"n"},{"mean":-0.231,"sd":0.932,"g":"n"},{"mean":-0.082,"sd":0.927,"g":"n"},{"mean":-0.05,"sd":0.927,"g":"n"},{"mean":0.073,"sd":0.942,"g":"n"},{"mean":0.105,"sd":0.954,"g":"n"},{"mean":0.17,"sd":0.957,"g":"n"},{"mean":0.193,"sd":0.942,"g":"n"},{"mean":0.253,"sd":0.95,"g":"n"},{"mean":0.283,"sd":0.984,"g":"n"},{"mean":0.27,"sd":0.97,"g":"n"},{"mean":0.226,"sd":1.025,"g":"n"},{"mean":-0.276,"sd":0.974,"g":"n"},{"mean":-0.182,"sd":0.987,"g":"n"},{"mean":-0.136,"sd":0.954,"g":"n"},{"mean":-0.09,"sd":0.967,"g":"n"},{"mean":0,"sd":0.96,"g":"n"},
{"mean":-0.3,"sd":1.08,"g":"n"},{"mean":-0.25,"sd":1.06,"g":"n"},{"mean":-0.2,"sd":1.09,"g":"n"},{"mean":-0.15,"sd":1.05,"g":"n"},{"mean":-0.1,"sd":1.08,"g":"n"},{"mean":-0.05,"sd":1.04,"g":"n"},{"mean":0.0,"sd":1.07,"g":"n"},{"mean":0.05,"sd":1.05,"g":"n"},{"mean":0.1,"sd":1.09,"g":"n"},{"mean":0.15,"sd":1.06,"g":"n"},{"mean":0.2,"sd":1.08,"g":"n"},{"mean":0.25,"sd":1.1,"g":"n"},{"mean":-0.35,"sd":1.12,"g":"n"},{"mean":-0.2,"sd":1.02,"g":"n"},{"mean":-0.12,"sd":1.11,"g":"n"},{"mean":0.08,"sd":1.02,"g":"n"},{"mean":0.18,"sd":1.01,"g":"n"},{"mean":-0.22,"sd":1.12,"g":"n"},{"mean":0.3,"sd":1.06,"g":"n"},{"mean":0.12,"sd":1.12,"g":"n"},{"mean":-0.06,"sd":1.1,"g":"n"},{"mean":0.02,"sd":1.1,"g":"n"},{"mean":-0.28,"sd":1.01,"g":"n"},{"mean":0.24,"sd":1.04,"g":"n"},{"mean":-0.16,"sd":0.99,"g":"n"},{"mean":0.14,"sd":0.99,"g":"n"},{"mean":-0.03,"sd":1.0,"g":"n"},{"mean":0.36,"sd":1.1,"g":"n"},
{"mean":-0.768,"sd":1.451,"g":"d"},{"mean":-0.519,"sd":1.337,"g":"d"},{"mean":-0.636,"sd":1.267,"g":"d"},{"mean":-0.496,"sd":1.091,"g":"d"},{"mean":-0.419,"sd":1.09,"g":"d"},{"mean":-0.302,"sd":1.011,"g":"d"},{"mean":0.467,"sd":1.23,"g":"d"},{"mean":0.538,"sd":1.23,"g":"d"},{"mean":1.003,"sd":1.407,"g":"d"},
{"mean":-1.373667,"sd":1.579174,"g":"p"}
],
"table": [
{"rank":1,"gene":"BIN1","mean":-1.373667,"unc":1.579174},
{"rank":2,"gene":"ARV1","mean":1.003005,"unc":1.407421},
{"rank":3,"gene":"CBFB","mean":-0.769357,"unc":1.454094},
{"rank":4,"gene":"SERBP1","mean":-0.722482,"unc":2.026266},
{"rank":5,"gene":"HIRA","mean":0.722309,"unc":1.415805},
{"rank":6,"gene":"SGK1","mean":0.688125,"unc":1.551849},
{"rank":7,"gene":"SV2A","mean":-0.684889,"unc":1.905803},
{"rank":8,"gene":"RPS4Y1","mean":-0.648069,"unc":1.702333},
{"rank":9,"gene":"NFIA","mean":-0.637778,"unc":1.268568},
{"rank":10,"gene":"RBMX","mean":-0.635438,"unc":1.388713}
],
"matrix": [
{"row":"Control","col":"Control","count":56},
{"row":"Control","col":"Perturbed","count":18},
{"row":"Perturbed","col":"Control","count":5},
{"row":"Perturbed","col":"Perturbed","count":8}
]
},
"hconcat": [
{
"width": 432, "height": 379,
"view": {"fill": "#E5ECF6", "stroke": null},
"layer": [
{"data": {"values": [{"mean": 0.245}]}, "mark": {"type": "rule", "color": "white", "strokeWidth": 2},
 "encoding": {"x": {"field": "mean", "type": "quantitative", "title": "Perturbation Mean"}}},
{"data": {"name": "core"}, "mark": {"type": "circle", "opacity": 1, "size": 40},
 "encoding": {
  "x": {"field": "mean", "type": "quantitative", "title": "Perturbation Mean"},
  "y": {"field": "sd", "type": "quantitative", "title": "Perturbation Std Dev"},
  "color": {"field": "g", "type": "nominal"}
 }},
{"data": {"name": "genes"}, "mark": {"type": "circle", "opacity": 1},
 "encoding": {
  "x": {"field": "mean", "type": "quantitative", "title": "Perturbation Mean",
   "scale": {"domain": [-1.545, 1.168], "nice": false, "zero": false},
   "axis": {"values": [-1.5, -1, -0.5, 0, 0.5, 1], "format": "~g", "labelExpr": "replace(datum.label, '-', '−')",
    "labelFont": "DejaVu Sans", "labelFontSize": 14, "labelColor": "#2a3f5f", "ticks": false, "domain": false, "labelPadding": 4,
    "grid": true, "gridColor": {"condition": {"test": "datum.value === 0", "value": "transparent"}, "value": "white"}, "gridWidth": 1,
    "titleFont": "Liberation Serif", "titleFontSize": 19, "titleFontWeight": "normal", "titleColor": "black", "titlePadding": 1, "titleX": 207}},
  "y": {"field": "sd", "type": "quantitative", "title": "Perturbation Std Dev",
   "scale": {"domain": [0.537, 2.423], "nice": false, "zero": false},
   "axis": {"values": [1, 1.5, 2], "format": "~g", "labelFont": "DejaVu Sans", "labelFontSize": 14, "labelColor": "#2a3f5f", "ticks": false, "domain": false, "labelPadding": 2,
    "grid": true, "gridColor": "white", "gridWidth": 1,
    "titleFont": "Liberation Serif", "titleFontSize": 19, "titleFontWeight": "normal", "titleColor": "black", "titlePadding": 2}},
  "color": {"field": "g", "type": "nominal", "scale": {"domain": ["n", "d", "p"], "range": ["#808080", "#0000ff", "#ff0000"]},
   "legend": {"title": null, "orient": "none", "legendX": 456, "legendY": 0.5, "padding": 0,
    "labelExpr": "datum.value == 'n' ? 'Non-differentially Expressed Genes (8047 genes)' : datum.value == 'd' ? 'Differentially Expressed Genes (10 genes)' : 'Perturbed Gene of Interest (1 gene)'",
    "labelFont": "Liberation Serif", "labelFontSize": 15.5, "labelColor": "black", "labelLimit": 500, "labelOffset": 2, "rowPadding": 7.5,
    "symbolSize": 64, "symbolStrokeWidth": 0, "symbolOpacity": 1,
    "encode": {"symbols": {"update": {"size": {"signal": "datum.value === 'n' ? 16 : datum.value === 'd' ? 40 : 64"}}}}}},
  "size": {"condition": [{"test": "datum.g === 'p'", "value": 62}, {"test": "datum.g === 'd'", "value": 38}], "value": 28}
 }}
]
},
{
"width": 348, "height": 379,
"data": {"name": "table"},
"encoding": {"y": {"field": "rank", "type": "ordinal", "scale": {"domain": [0,1,2,3,4,5,6,7,8,9,10], "range": [76.8, 378.2], "paddingInner": 0, "paddingOuter": 0}, "axis": null}},
"layer": [
{"mark": {"type": "rect"}, "encoding": {
  "x": {"datum": "start", "type": "nominal", "scale": {"type": "point", "domain": ["start", "idx", "gene", "mean", "unc", "end"], "range": [0, 303], "padding": 0}, "axis": null},
  "x2": {"datum": "end"},
  "color": {"condition": {"test": "datum.rank % 2 == 0", "value": "#f5f5f5"}, "value": "#ffffff"}}},
{"data": {"values": [{"rank": 0}]}, "mark": {"type": "rule", "color": "#c4c4c4", "strokeWidth": 1},
 "encoding": {"y": {"field": "rank", "type": "ordinal", "bandPosition": 1}, "x": {"datum": "start", "type": "nominal"}, "x2": {"datum": "end"}}},
{"data": {"values": [{"rank": 0}]}, "mark": {"type": "text", "align": "right", "baseline": "middle", "dx": -41.2, "font": "Liberation Sans", "fontSize": 13.5, "fontWeight": "bold", "color": "#111111"},
 "encoding": {"x": {"datum": "gene", "type": "nominal"}, "text": {"value": "Gene"}}},
{"data": {"values": [{"rank": 0}]}, "mark": {"type": "text", "align": "right", "baseline": "middle", "dx": 34.2, "font": "Liberation Sans", "fontSize": 13.5, "fontWeight": "bold", "color": "#111111"},
 "encoding": {"x": {"datum": "mean", "type": "nominal"}, "text": {"value": "Perturbation Mean"}}},
{"data": {"values": [{"rank": 0}]}, "mark": {"type": "text", "align": "right", "baseline": "middle", "dx": 53.6, "font": "Liberation Sans", "fontSize": 12.5, "fontWeight": "bold", "color": "#111111"},
 "encoding": {"x": {"datum": "unc", "type": "nominal"}, "text": {"value": "Uncertainty"}}},
{"mark": {"type": "text", "align": "center", "baseline": "middle", "dx": -42.1, "font": "Liberation Sans", "fontSize": 13, "fontWeight": "bold", "color": "#111111"},
 "encoding": {"x": {"datum": "idx", "type": "nominal"}, "text": {"field": "rank"}}},
{"mark": {"type": "text", "align": "right", "baseline": "middle", "dx": -41.2, "font": "Liberation Sans", "fontSize": 12, "color": "#111111"},
 "encoding": {"x": {"datum": "gene", "type": "nominal"}, "text": {"field": "gene"}}},
{"mark": {"type": "text", "align": "right", "baseline": "middle", "dx": 34.2, "font": "Liberation Sans", "fontSize": 14, "color": "#111111"},
 "encoding": {"x": {"datum": "mean", "type": "nominal"}, "text": {"field": "mean", "type": "quantitative", "format": ".6f"}}},
{"mark": {"type": "text", "align": "right", "baseline": "middle", "dx": 53.6, "font": "Liberation Sans", "fontSize": 14, "color": "#111111"},
 "encoding": {"x": {"datum": "unc", "type": "nominal"}, "text": {"field": "unc", "type": "quantitative", "format": ".6f"}}}
]
},
{
"vconcat": [
{"width": 124, "height": 80, "data": {"values": []}, "mark": "point"},
{
"width": 124, "height": 154,
"data": {"name": "matrix"},
"title": {"text": ["Classification of", "cell states in", "CRISPRi", "experiments."], "orient": "bottom", "anchor": "start", "frame": "group",
 "font": "Liberation Serif", "fontSize": 19, "fontWeight": "normal", "color": "black", "lineHeight": 23, "offset": 15, "dx": -6},
"encoding": {
 "x": {"field": "col", "type": "nominal", "scale": {"domain": ["Control", "Perturbed"], "paddingInner": 0, "paddingOuter": 0},
  "axis": {"title": "Perturbed", "labels": false, "ticks": false, "domain": false, "titleFont": "Liberation Serif", "titleFontSize": 24, "titleFontWeight": "normal", "titleColor": "black", "titlePadding": 0}},
 "y": {"field": "row", "type": "nominal", "scale": {"domain": ["Control", "Perturbed"], "paddingInner": 0, "paddingOuter": 0},
  "axis": {"title": "Control", "labels": false, "ticks": false, "domain": false, "titleFont": "Liberation Serif", "titleFontSize": 24, "titleFontWeight": "normal", "titleColor": "black", "titlePadding": 0}}
},
"layer": [
{"mark": {"type": "rect"}, "encoding": {"color": {"field": "count", "type": "nominal", "scale": {"domain": [56, 18, 5, 8], "range": ["#08306b", "#bcd7ec", "#e3eef9", "#f4f9fe"]}, "legend": null}}},
{"mark": {"type": "text", "font": "DejaVu Sans", "fontSize": 23, "baseline": "middle"},
 "encoding": {"text": {"field": "count", "type": "quantitative"}, "color": {"condition": {"test": "datum.count > 40", "value": "white"}, "value": "#262626"}}}
]
}
],
"spacing": 0,
"bounds": "flush"
}
]
}
